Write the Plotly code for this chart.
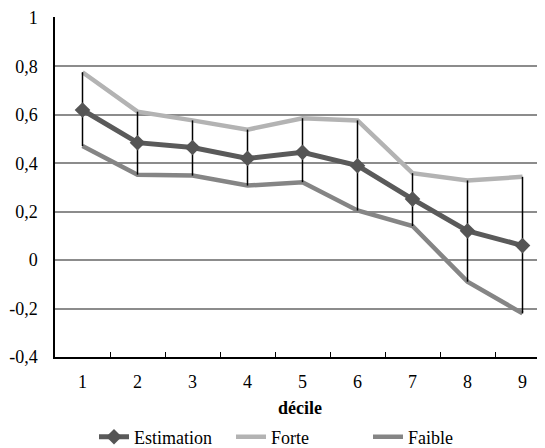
import plotly.graph_objects as go

deciles = [1, 2, 3, 4, 5, 6, 7, 8, 9]
estimation = [0.62, 0.485, 0.465, 0.42, 0.445, 0.39, 0.252, 0.121, 0.06]
forte = [0.776, 0.613, 0.577, 0.539, 0.586, 0.577, 0.359, 0.329, 0.344]
faible = [0.471, 0.353, 0.349, 0.308, 0.322, 0.205, 0.141, -0.089, -0.22]
y_tickvals = [-0.4, -0.2, 0, 0.2, 0.4, 0.6, 0.8, 1]
y_ticktext = ["-0,4", "-0,2", "0", "0,2", "0,4", "0,6", "0,8", "1"]
x_ticktext = [str(d) for d in deciles]

FONT = "Liberation Serif, Times New Roman, serif"

err_plus = [f - e for f, e in zip(forte, estimation)]
err_minus = [e - w for e, w in zip(estimation, faible)]

W, H = 537, 440  # page adds an 8px body margin

fig = go.Figure()
fig.add_trace(go.Scatter(
    x=deciles, y=forte, name="Forte", mode="lines",
    line=dict(color="#b3b3b3", width=4.5), legendrank=2))
fig.add_trace(go.Scatter(
    x=deciles, y=faible, name="Faible", mode="lines",
    line=dict(color="#858585", width=4.5), legendrank=3))
fig.add_trace(go.Scatter(
    x=deciles, y=estimation, name="Estimation", mode="lines+markers",
    line=dict(color="#5a5a5a", width=5),
    marker=dict(symbol="diamond", size=12, color="#555555"),
    error_y=dict(type="data", symmetric=False, array=err_plus, arrayminus=err_minus,
                 color="black", thickness=1.5, width=0),
    legendrank=1))

fig.update_layout(
    width=W, height=H,
    margin=dict(l=47, r=0, t=9, b=91, autoexpand=False),
    paper_bgcolor="white", plot_bgcolor="white",
    font=dict(family=FONT, size=18, color="black"),
    showlegend=True,
    legend=dict(orientation="h", xref="container", yref="container",
                x=86 / W, xanchor="left",
                y=1 - 429 / H, yanchor="middle",
                font=dict(family=FONT, size=18, color="black"),
                traceorder="normal", tracegroupgap=0, entrywidth=92,
                bgcolor="rgba(0,0,0,0)"),
    xaxis=dict(range=[0.5, 0.5 + 490 / 55], tickvals=deciles, ticktext=x_ticktext,
               ticks="", showgrid=False, zeroline=False,
               showline=True, linecolor="black", linewidth=1.5,
               tickfont=dict(family=FONT, size=18, color="black"),
               ticklabelstandoff=8, ticklabeloverflow="allow",
               minor=dict(tickvals=[d + 0.5 for d in deciles[:-1]], ticks="inside",
                          ticklen=5, tickcolor="black", tickwidth=1, showgrid=False),
               title=dict(text="<b>décile</b>", standoff=10,
                          font=dict(family=FONT, size=18, color="black"))),
    yaxis=dict(range=[-0.4, 1.004], tickvals=y_tickvals, ticktext=y_ticktext,
               ticks="", showgrid=True, gridcolor="#8c8c8c", gridwidth=1.5,
               zeroline=False, showline=True, linecolor="black", linewidth=1.5,
               tickfont=dict(family=FONT, size=18, color="black"),
               ticklabelstandoff=12, ticklabeloverflow="allow"),
)

fig.write_html("out.html")
